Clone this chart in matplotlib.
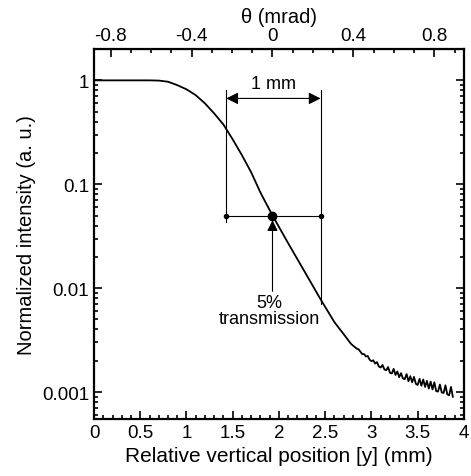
import matplotlib.pyplot as plt
from matplotlib.ticker import MultipleLocator, LogLocator, NullFormatter, FixedLocator

plt.rcParams['font.family'] = ['Liberation Sans', 'DejaVu Sans']

pos_mm = [0.0, 0.3, 0.6, 0.7, 0.8, 0.9, 1.0, 1.1, 1.2, 1.3, 1.4, 1.5, 1.6, 1.7,
          1.8, 1.93, 2.1, 2.3, 2.45, 2.6, 2.7, 2.78,
          2.80, 2.82, 2.84, 2.86, 2.88, 2.90, 2.92, 2.94, 2.96, 2.98,
          3.00, 3.02, 3.04, 3.06, 3.08, 3.10, 3.12, 3.14, 3.16, 3.18,
          3.20, 3.22, 3.24, 3.26, 3.28, 3.30, 3.32, 3.34, 3.36, 3.38,
          3.40, 3.42, 3.44, 3.46, 3.48, 3.50, 3.52, 3.54, 3.56, 3.58,
          3.60, 3.62, 3.64, 3.66, 3.68, 3.70, 3.72, 3.74, 3.76, 3.78,
          3.80, 3.82, 3.84, 3.86, 3.88]
intensity = [1.0, 1.0, 1.0, 0.995, 0.97, 0.9, 0.82, 0.72, 0.6, 0.48, 0.375, 0.27, 0.19, 0.13,
             0.083, 0.05, 0.027, 0.0133, 0.0078, 0.0047, 0.0036, 0.0029,
             0.00280, 0.00271, 0.00262, 0.00258, 0.00245, 0.00232, 0.00232, 0.00220, 0.00222, 0.00205,
             0.00198, 0.00202, 0.00188, 0.00194, 0.00176, 0.00172, 0.00182, 0.00165, 0.00162, 0.00174,
             0.00153, 0.00151, 0.00167, 0.00146, 0.00158, 0.00139, 0.00152, 0.00135, 0.00133, 0.00149,
             0.00127, 0.00142, 0.00124, 0.00140, 0.00120, 0.00117, 0.00134, 0.00115, 0.00132, 0.00112,
             0.00128, 0.00108, 0.00126, 0.00106, 0.00124, 0.00102, 0.00101, 0.00118, 0.00099, 0.00098,
             0.00116, 0.00095, 0.00093, 0.00112, 0.00090]

theta_ticks = [-0.8, -0.4, 0, 0.4, 0.8]
theta_zero_mm = 1.93
mrad_per_mm = 0.457

fig = plt.figure(figsize=(4.71, 4.77), dpi=100)
ax = fig.add_axes([0.1996, 0.1195, 0.7854, 0.7755])

ax.plot(pos_mm, intensity, color='black', lw=1.3)
ax.set_yscale('log')
ax.set_xlim(0, 4)
ax.set_ylim(5.5e-4, 2)

# 1 mm marker and 5% transmission point
x1, x2 = 1.43, 2.45
ax.plot([x1, x1], [0.043, 0.8], color='black', lw=0.8)
ax.plot([x2, x2], [0.007, 0.8], color='black', lw=0.8)
ax.plot([x1, x2], [0.05, 0.05], color='black', lw=0.8, marker='o', ms=3)
ax.plot([theta_zero_mm], [0.05], 'o', color='black', ms=6)
ax.annotate('', xy=(x1, 0.67), xytext=(x2, 0.67),
            arrowprops=dict(arrowstyle='<|-|>', color='black', lw=0.8, mutation_scale=18,
                            shrinkA=0, shrinkB=0))
ax.text((x1 + x2) / 2, 0.78, '1 mm', ha='center', va='bottom', fontsize=13)
ax.annotate('', xy=(theta_zero_mm, 0.045), xytext=(theta_zero_mm, 0.0093),
            arrowprops=dict(arrowstyle='-|>', color='black', lw=0.8, mutation_scale=16,
                            shrinkA=0, shrinkB=0))
ax.text(theta_zero_mm - 0.03, 0.0088, '5%\ntransmission', ha='center', va='top',
        fontsize=13, linespacing=0.95)

ax.set_xlabel('Relative vertical position [y] (mm)', fontsize=15)
ax.set_ylabel('Normalized intensity (a. u.)', fontsize=14.5)
ax.xaxis.set_major_locator(MultipleLocator(0.5))
ax.xaxis.set_minor_locator(MultipleLocator(0.1))
ax.xaxis.set_major_formatter(plt.FuncFormatter(lambda v, p: f'{v:g}'))
ax.yaxis.set_major_locator(FixedLocator([0.001, 0.01, 0.1, 1]))
ax.yaxis.set_major_formatter(plt.FuncFormatter(lambda v, p: f'{v:g}'))
ax.yaxis.set_minor_locator(LogLocator(base=10, subs=range(2, 10)))
ax.yaxis.set_minor_formatter(NullFormatter())
ax.tick_params(which='both', direction='in', top=False, right=True, labelsize=13.5, width=1.2)
ax.tick_params(which='major', length=6)
ax.tick_params(which='minor', length=3)
for s in ax.spines.values():
    s.set_linewidth(1.6)

# top axis in mrad
top = ax.secondary_xaxis('top', functions=(lambda y: (y - theta_zero_mm) * mrad_per_mm,
                                             lambda t: t / mrad_per_mm + theta_zero_mm))
top.set_xticks(theta_ticks)
top.xaxis.set_minor_locator(MultipleLocator(0.1))
top.xaxis.set_major_formatter(plt.FuncFormatter(lambda v, p: f'{v:g}'))
top.tick_params(which='both', direction='in', labelsize=13.5, width=1.2)
top.tick_params(which='major', length=6)
top.tick_params(which='minor', length=3)
top.set_xlabel('θ (mrad)', fontsize=14.5)

fig.savefig('out.png', dpi=100)
